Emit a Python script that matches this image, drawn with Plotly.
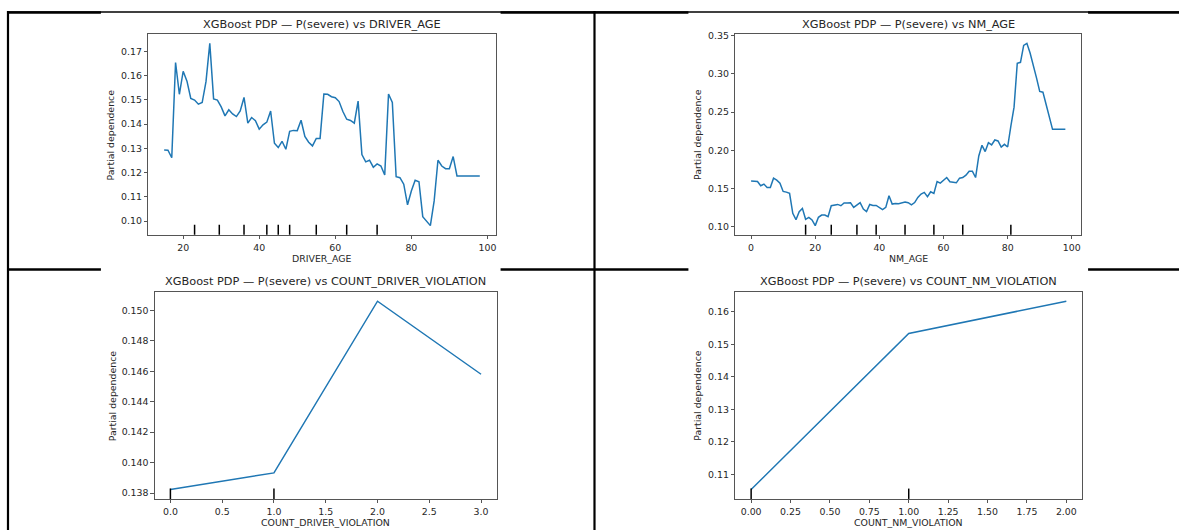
import plotly.graph_objects as go

# ---------------- data ----------------
DRIVER_AGE = list(range(15, 99))
DRIVER_PD = [
    0.1293, 0.1292, 0.1261, 0.1654, 0.1523, 0.1618, 0.1577, 0.1506, 0.1499, 0.1482,
    0.1489, 0.1575, 0.1733, 0.1504, 0.1499, 0.1471, 0.1434, 0.1459, 0.1442, 0.1431,
    0.1454, 0.1510, 0.1404, 0.1427, 0.1414, 0.1379, 0.1397, 0.1408, 0.1454, 0.1321,
    0.1303, 0.1329, 0.1296, 0.1370, 0.1374, 0.1373, 0.1416, 0.1349, 0.1325, 0.1310,
    0.1341, 0.1341, 0.1524, 0.1523, 0.1513, 0.1509, 0.1493, 0.1452, 0.1420, 0.1415,
    0.1404, 0.1495, 0.1274, 0.1244, 0.1251, 0.1222, 0.1236, 0.1227, 0.1190, 0.1524,
    0.1489, 0.1183, 0.1179, 0.1152, 0.1067, 0.1124, 0.1168, 0.1162, 0.1018, 0.0999,
    0.0981, 0.1083, 0.1251, 0.1227, 0.1216, 0.1216, 0.1266, 0.1186, 0.1186, 0.1186,
    0.1186, 0.1186, 0.1186, 0.1186,
]
DRIVER_DECILES = [23, 29.5, 36, 42, 45, 48, 55, 63, 71]

NM_AGE = list(range(0, 99))
NM_PD = [
    0.1596, 0.1596, 0.1591, 0.1535, 0.1557, 0.1513, 0.1513, 0.1635, 0.1609, 0.1570,
    0.1461, 0.1452, 0.1435, 0.1174, 0.1091, 0.1196, 0.1239, 0.1096, 0.1122, 0.1087,
    0.1013, 0.1122, 0.1152, 0.1152, 0.1130, 0.1274, 0.1278, 0.1291, 0.1274, 0.1309,
    0.1309, 0.1313, 0.1252, 0.1287, 0.1313, 0.1230, 0.1196, 0.1291, 0.1278, 0.1278,
    0.1252, 0.1222, 0.1252, 0.1404, 0.1296, 0.1304, 0.1300, 0.1313, 0.1322, 0.1313,
    0.1285, 0.1315, 0.1383, 0.1426, 0.1448, 0.1391, 0.1457, 0.1435, 0.1591, 0.1570,
    0.1613, 0.1643, 0.1587, 0.1578, 0.1574, 0.1635, 0.1643, 0.1674, 0.1726, 0.1726,
    0.1643, 0.1926, 0.2065, 0.1983, 0.2100, 0.2070, 0.2135, 0.2122, 0.2043, 0.2078,
    0.2043, 0.2317, 0.2565, 0.3139, 0.3152, 0.3374, 0.3400, 0.3274, 0.3122, 0.2948,
    0.2770, 0.2761, 0.2600, 0.2435, 0.2274, 0.2274, 0.2274, 0.2274, 0.2274,
]
NM_DECILES = [17, 25, 33, 39, 48, 57, 66, 81]

CDV = [0, 1, 2, 3]
CDV_PD = [0.13824, 0.13933, 0.15059, 0.14580]
CDV_DECILES = [0, 1]

CNV = [0, 1, 2]
CNV_PD = [0.1054, 0.1533, 0.1632]
CNV_DECILES = [0, 1]

TITLES = [
    "XGBoost PDP — P(severe) vs DRIVER_AGE",
    "XGBoost PDP — P(severe) vs NM_AGE",
    "XGBoost PDP — P(severe) vs COUNT_DRIVER_VIOLATION",
    "XGBoost PDP — P(severe) vs COUNT_NM_VIOLATION",
]
XLABELS = ["DRIVER_AGE", "NM_AGE", "COUNT_DRIVER_VIOLATION", "COUNT_NM_VIOLATION"]
YLABEL = "Partial dependence"

X_TICKS = [
    [20, 40, 60, 80, 100],
    [0, 20, 40, 60, 80, 100],
    [0.0, 0.5, 1.0, 1.5, 2.0, 2.5, 3.0],
    [0.0, 0.25, 0.5, 0.75, 1.0, 1.25, 1.5, 1.75, 2.0],
]
X_FMT = ["d", "d", ".1f", ".2f"]
Y_TICKS = [
    [0.10, 0.11, 0.12, 0.13, 0.14, 0.15, 0.16, 0.17],
    [0.10, 0.15, 0.20, 0.25, 0.30, 0.35],
    [0.138, 0.140, 0.142, 0.144, 0.146, 0.148, 0.150],
    [0.11, 0.12, 0.13, 0.14, 0.15, 0.16],
]
Y_FMT = [".2f", ".2f", ".3f", ".2f"]

# ---------------- layout geometry (pixels) ----------------
W, H = 1180, 530
# axes boxes: x0, x1, ytop, ybottom in pixels
BOXES = [
    (148.5, 496, 30.5, 232.5),
    (736, 1082, 30.5, 232.5),
    (155, 497, 290, 498.7),
    (736, 1083, 290, 498.7),
]
YLAB_X = [111, 698, 112, 698]
XLAB_Y = [256.5, 256.5, 522.5, 522.5]
TITLE_Y = [21, 21, 280, 280]

FONT = "DejaVu Sans"
LINE_BLUE = "#1f77b4"
SPINE = "#555555"
TXT = "#262626"


def fx(px):
    return px / W


def fy(py):
    return 1 - py / H


def padded(vals, frac=0.05):
    lo, hi = min(vals), max(vals)
    d = (hi - lo) * frac
    return [lo - d, hi + d]


fig = go.Figure()

series = [
    (DRIVER_AGE, DRIVER_PD, DRIVER_DECILES),
    (NM_AGE, NM_PD, NM_DECILES),
    (CDV, CDV_PD, CDV_DECILES),
    (CNV, CNV_PD, CNV_DECILES),
]

annotations = []
shapes = []

for i, (xs, ys, decs) in enumerate(series):
    n = i + 1
    xa = "x" if n == 1 else f"x{n}"
    ya = "y" if n == 1 else f"y{n}"
    fig.add_trace(go.Scatter(
        x=xs, y=ys, mode="lines", xaxis=xa, yaxis=ya,
        line=dict(color=LINE_BLUE, width=1.5), showlegend=False,
        hoverinfo="skip",
    ))
    x0, x1, yt, yb = BOXES[i]
    axis_common = dict(
        showline=True, linecolor=SPINE, linewidth=1, mirror=True,
        ticks="outside", ticklen=3.5, tickwidth=1, tickcolor=SPINE,
        showgrid=False, zeroline=False,
        tickfont=dict(family=FONT, size=9.4, color=TXT),
    )
    fig.update_layout(**{
        ("xaxis" if n == 1 else f"xaxis{n}"): dict(
            domain=[fx(x0), fx(x1)], anchor=ya, range=padded(xs),
            tickvals=X_TICKS[i], tickformat=X_FMT[i], **axis_common),
        ("yaxis" if n == 1 else f"yaxis{n}"): dict(
            domain=[fy(yb), fy(yt)], anchor=xa, range=padded(ys),
            tickvals=Y_TICKS[i], tickformat=Y_FMT[i], **axis_common),
    })
    # decile rug
    for d in decs:
        shapes.append(dict(
            type="line", xref=xa, yref=f"{ya} domain",
            x0=d, x1=d, y0=0, y1=0.05,
            line=dict(color="black", width=1.5), layer="above",
        ))
    # title
    annotations.append(dict(
        text=TITLES[i], xref="paper", yref="paper",
        x=fx((x0 + x1) / 2), y=fy(TITLE_Y[i]), showarrow=False,
        xanchor="center", yanchor="middle",
        font=dict(family=FONT, size=11.3, color=TXT),
    ))
    # x label
    annotations.append(dict(
        text=XLABELS[i], xref="paper", yref="paper",
        x=fx((x0 + x1) / 2), y=fy(XLAB_Y[i]), showarrow=False,
        xanchor="center", yanchor="middle",
        font=dict(family=FONT, size=9.4, color=TXT),
    ))
    # y label
    annotations.append(dict(
        text=YLABEL, xref="paper", yref="paper", textangle=-90,
        x=fx(YLAB_X[i]), y=fy((yt + yb) / 2), showarrow=False,
        xanchor="center", yanchor="middle",
        font=dict(family=FONT, size=9.4, color=TXT),
    ))

# ---------------- table border lines ----------------
def hline(xa, xb, y, w=2.2):
    shapes.append(dict(type="line", xref="paper", yref="paper",
                       x0=fx(xa), x1=fx(xb), y0=fy(y), y1=fy(y),
                       line=dict(color="black", width=w), layer="below"))


def vline(x, ya, yb, w=2.2):
    shapes.append(dict(type="line", xref="paper", yref="paper",
                       x0=fx(x), x1=fx(x), y0=fy(ya), y1=fy(yb),
                       line=dict(color="black", width=w), layer="below"))


hline(7, 1180, 8, 1.4)
for a, b in [(7, 101), (501, 689), (1089, 1180)]:
    hline(a, b, 8.5, 2.4)
    hline(a, b, 267.5, 2.4)
vline(8, 7, 530)
vline(595, 7, 530)

fig.update_layout(
    width=W, height=H, autosize=False,
    margin=dict(l=0, r=0, t=0, b=0),
    paper_bgcolor="white", plot_bgcolor="white",
    annotations=annotations, shapes=shapes,
    font=dict(family=FONT, color=TXT),
)

fig.write_html(
    "out.html",
    config={"displayModeBar": False},
    post_script="document.body.style.margin='0';document.body.style.overflow='hidden';",
)
